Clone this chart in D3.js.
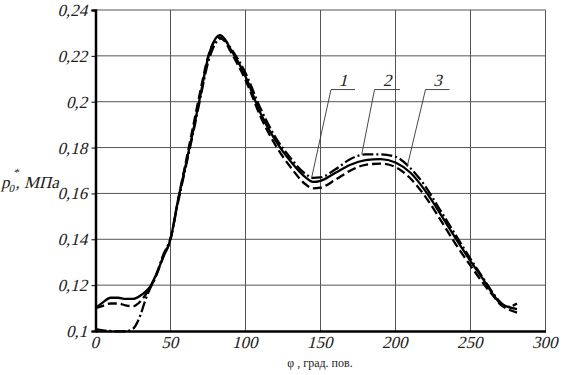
<!DOCTYPE html>
<html>
<head>
<meta charset="utf-8">
<script src="https://cdn.jsdelivr.net/npm/d3@7/dist/d3.min.js"></script>
<style>
  body { margin: 0; background: #fff; }
  text { font-family: "Liberation Serif", "Times New Roman", serif; }
</style>
</head>
<body>
<div id="chart"></div>
<script>
// crank angle, degrees
var phi = [0, 5, 10, 15, 20, 25, 30, 33, 36, 40, 45, 50, 55, 60, 65, 70, 75, 80, 83, 86, 90, 95,
  100, 110, 120, 130, 140, 145, 150, 160, 170, 180, 190, 200, 210, 220, 230, 240, 250, 260, 265, 270, 275, 281];

// curve 1 (dashed)
var p1 = [0.110, 0.111, 0.112, 0.112, 0.1112, 0.1108, 0.113, 0.1155, 0.1185, 0.1235, 0.132, 0.140, 0.157, 0.173,
  0.189, 0.205, 0.2195, 0.227, 0.228, 0.2265, 0.222, 0.216, 0.2095, 0.1935, 0.181, 0.1715, 0.164, 0.1622, 0.1625,
  0.166, 0.170, 0.1725, 0.173, 0.1715, 0.1665, 0.1585, 0.1485, 0.138, 0.1285, 0.1195, 0.1155, 0.1115, 0.1095, 0.108];

// curve 2 (dash-dot)
var p2 = [0.1008, 0.1003, 0.100, 0.0998, 0.0999, 0.101, 0.107, 0.113, 0.118, 0.1235, 0.133, 0.1405, 0.156, 0.171,
  0.186, 0.202, 0.217, 0.2255, 0.2275, 0.227, 0.2235, 0.2185, 0.2125, 0.197, 0.1845, 0.1755, 0.1685, 0.1668, 0.167,
  0.1705, 0.175, 0.177, 0.177, 0.176, 0.171, 0.163, 0.1525, 0.142, 0.1315, 0.1215, 0.1165, 0.1125, 0.1105, 0.112];

// curve 3 (solid)
var p3 = [0.110, 0.1125, 0.1145, 0.1145, 0.114, 0.114, 0.1155, 0.117, 0.119, 0.124, 0.132, 0.140, 0.157, 0.172,
  0.187, 0.203, 0.219, 0.2275, 0.229, 0.2275, 0.223, 0.2175, 0.211, 0.195, 0.183, 0.174, 0.167, 0.165, 0.1655,
  0.169, 0.1725, 0.1745, 0.175, 0.1735, 0.169, 0.161, 0.151, 0.1405, 0.1305, 0.121, 0.116, 0.112, 0.1105, 0.1095];

var xTicks = [0, 50, 100, 150, 200, 250, 300];
var yTicks = [0.1, 0.12, 0.14, 0.16, 0.18, 0.2, 0.22, 0.24];

// curve labels: leader shelf ends, pointer end (data units)
var labels = ['1', '2', '3'];
var labelShelf = [[157, 173], [186, 203], [220, 236]];
var labelTip = [[144, 0.1666], [177.5, 0.177], [207.7, 0.1715]];
var shelfP = 0.2053;

var width = 563, height = 375;
var slant = 'skewX(-14)'; // fake italic, no italic face for the serif here

var x = d3.scaleLinear().domain([0, 300]).range([95.5, 545.5]);
var y = d3.scaleLinear().domain([0.1, 0.24]).range([331, 10]);

var svg = d3.select('#chart').append('svg')
  .attr('width', width)
  .attr('height', height);

// grid
svg.append('g')
  .selectAll('line')
  .data(xTicks.slice(1))
  .join('line')
  .attr('x1', function(d) { return x(d); })
  .attr('x2', function(d) { return x(d); })
  .attr('y1', y(0.1))
  .attr('y2', y(0.24))
  .attr('stroke', '#555')
  .attr('stroke-width', 1);

svg.append('g')
  .selectAll('line')
  .data(yTicks.slice(1))
  .join('line')
  .attr('x1', x(0))
  .attr('x2', x(300))
  .attr('y1', function(d) { return y(d); })
  .attr('y2', function(d) { return y(d); })
  .attr('stroke', '#555')
  .attr('stroke-width', 1);

var fmt = function(d) { return d3.format('.2~f')(d).replace('.', ','); };

// y axis
var yAxis = svg.append('g')
  .attr('transform', 'translate(' + x(0) + ',0)')
  .call(d3.axisLeft(y).tickValues(yTicks).tickSize(4).tickPadding(3).tickFormat(fmt));
yAxis.select('.domain').attr('stroke', '#000').attr('stroke-width', 2.5);
yAxis.selectAll('text')
  .style('font-family', '"Liberation Serif", serif')
  .style('font-size', '17px')
  .attr('transform', slant)
  .attr('fill', '#222');

// x axis
var xAxis = svg.append('g')
  .attr('transform', 'translate(0,' + y(0.1) + ')')
  .call(d3.axisBottom(x).tickValues(xTicks).tickSize(0).tickPadding(5));
xAxis.select('.domain').attr('stroke', '#000').attr('stroke-width', 2.5);
xAxis.selectAll('text')
  .style('font-family', '"Liberation Serif", serif')
  .style('font-size', '17px')
  .attr('transform', 'translate(3,0) ' + slant)
  .attr('fill', '#222');

// axis titles
svg.append('text')
  .attr('x', 320)
  .attr('y', 367)
  .attr('text-anchor', 'middle')
  .style('font-size', '12px')
  .attr('fill', '#222')
  .text('φ , град. пов.');

var yt = svg.append('g')
  .attr('transform', 'translate(1,188) ' + slant)
  .append('text')
  .style('font-size', '17px')
  .attr('fill', '#222');
yt.append('tspan').text('p');
yt.append('tspan').attr('dy', 4).style('font-size', '11px').text('0');
yt.append('tspan').attr('dx', -5).attr('dy', -16).style('font-size', '11px').text('*');
yt.append('tspan').attr('dy', 12).text(', МПа');

// curves
var line = d3.line()
  .x(function(d) { return x(d[0]); })
  .y(function(d) { return y(d[1]); })
  .curve(d3.curveMonotoneX);

var series = [
  { values: p1, dash: '9,4' },
  { values: p2, dash: '11,3,2,3' },
  { values: p3, dash: null }
];

svg.append('g')
  .selectAll('path')
  .data(series)
  .join('path')
  .attr('d', function(s) { return line(phi.map(function(v, i) { return [v, s.values[i]]; })); })
  .attr('fill', 'none')
  .attr('stroke', '#000')
  .attr('stroke-width', 2.3)
  .attr('stroke-dasharray', function(s) { return s.dash; });

// leaders and labels
var lg = svg.append('g');
labels.forEach(function(t, i) {
  var sh = labelShelf[i], tip = labelTip[i];
  lg.append('polyline')
    .attr('points', [
      [x(tip[0]), y(tip[1])],
      [x(sh[0]), y(shelfP)],
      [x(sh[1]), y(shelfP)]
    ].join(' '))
    .attr('fill', 'none')
    .attr('stroke', '#333')
    .attr('stroke-width', 0.9);
  lg.append('g')
    .attr('transform', 'translate(' + (x(sh[0]) + x(sh[1])) / 2 + ',' + (y(shelfP) - 4) + ') ' + slant)
    .append('text')
    .attr('text-anchor', 'middle')
    .style('font-size', '17px')
    .attr('fill', '#222')
    .text(t);
});
</script>
</body>
</html>
